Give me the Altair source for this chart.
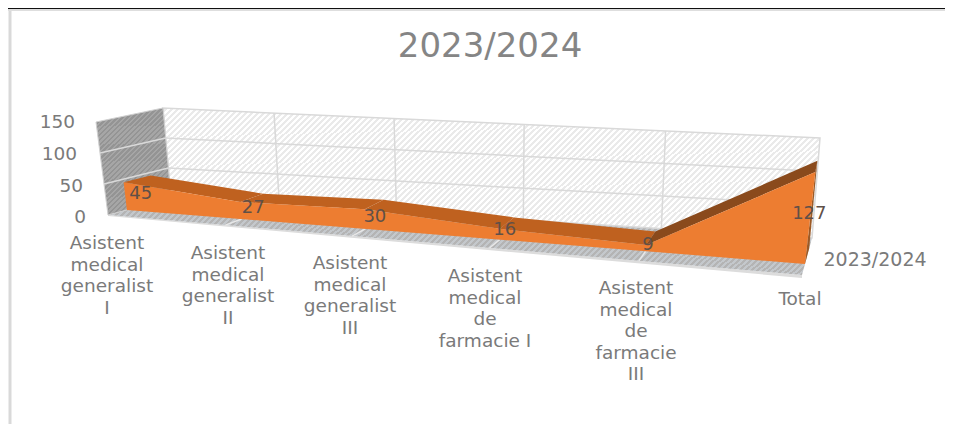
import altair as alt
import pandas as pd

title = "2023/2024"
series_name = "2023/2024"
categories = [
    ["Asistent", "medical", "generalist", "I"],
    ["Asistent", "medical", "generalist", "II"],
    ["Asistent", "medical", "generalist", "III"],
    ["Asistent", "medical", "de", "farmacie I"],
    ["Asistent", "medical", "de", "farmacie", "III"],
    ["Total"],
]
values = [45, 27, 30, 16, 9, 127]
axis_ticks = [0, 50, 100, 150]

# layout (reference pixel space)
W, H = 937, 416
FLOOR = {"fl": (108, 215), "fr": (802, 275), "bl": (171, 198), "br": (812, 238)}
TOP = {"fl": (96, 122), "fr": (816, 163), "bl": (163, 108), "br": (820, 138)}
PERSP = 1.229
D0, D1 = 0.3, 0.72
N = len(values) - 1
FONT = "DejaVu Sans"
GREY = "#7a7a7a"
label_x = [107, 228, 350, 485, 636, 800]
label_y = [243, 253, 263, 276, 288, 299]
value_offsets = [(17, 12), (13, 6), (10, 8), (5, 1), (2, 0), (-6, 42)]
tick_pos = [(86, 217), (83, 186), (77, 154), (75, 122)]


def lerp(a, b, s):
    return a + (b - a) * s


def bil(c, tt, d, k):
    return lerp(lerp(c["fl"][k], c["fr"][k], tt), lerp(c["bl"][k], c["br"][k], tt), d)


def P(i, v, d):
    """Project (category position, value, depth) to the picture plane."""
    t = i / N
    tt = t / (t + (1 - t) * PERSP)
    f = v / axis_ticks[-1]
    return (
        lerp(bil(FLOOR, tt, d, 0), bil(TOP, tt, d, 0), f),
        lerp(bil(FLOOR, tt, d, 1), bil(TOP, tt, d, 1), f),
    )


sx = alt.Scale(domain=[8, 8 + W], range=[0, W])
sy = alt.Scale(domain=[8 + H, 8], range=[H, 0])
xe = alt.X("x:Q", scale=sx, axis=None)
ye = alt.Y("y:Q", scale=sy, axis=None)


def hatch(c1, c2, period, w, h):
    n = int((w + h) / period)
    stops = []
    for k in range(n):
        a, b, e = k / n, (k + 0.5) / n, (k + 1) / n
        stops += [
            alt.GradientStop(offset=a, color=c1),
            alt.GradientStop(offset=b, color=c1),
            alt.GradientStop(offset=b, color=c2),
            alt.GradientStop(offset=e, color=c2),
        ]
    g = 1 + h / w
    return alt.LinearGradient(
        gradient="linear", x1=0, y1=0, x2=g / (1 + (h / w) ** 2) * 1.0, y2=g / (1 + (h / w) ** 2) * h / w, stops=stops
    )


def poly(pts, fill, stroke=None, sw=0):
    rows = [{"x": p[0], "y": p[1], "o": n} for n, p in enumerate(pts + pts[:1])]
    kw = {"fill": fill, "interpolate": "linear", "clip": False}
    if stroke:
        kw.update(stroke=stroke, strokeWidth=sw)
    else:
        kw.update(strokeWidth=0)
    return alt.Chart(pd.DataFrame(rows)).mark_line(**kw).encode(x=xe, y=ye, order="o:Q")


def seg(a, b, color, sw=1.5):
    rows = [{"x": a[0], "y": a[1], "o": 0}, {"x": b[0], "y": b[1], "o": 1}]
    return alt.Chart(pd.DataFrame(rows)).mark_line(color=color, strokeWidth=sw).encode(x=xe, y=ye, order="o:Q")


def text(x, y, t, size, color=GREY, align="center", line_height=None):
    kw = dict(fontSize=size, color=color, align=align, baseline="middle", font=FONT)
    if line_height:
        kw.update(lineHeight=line_height, baseline="line-top", lineBreak="\n")
    return alt.Chart(pd.DataFrame({"x": [x], "y": [y], "t": [t]})).mark_text(**kw).encode(x=xe, y=ye, text="t:N")


layers = []
# page furniture
layers.append(seg((8, 8.5), (945, 8.5), "#111111", 1.6))
layers.append(seg((8, 10), (945, 10), "#dedede", 2))
layers.append(seg((10, 11), (10, 426), "#d9d9d9", 3))

# floor: thin edge, then top surface
layers.append(poly([P(0, 0, 0), P(N, 0, 0), (P(N, 0, 0)[0], P(N, 0, 0)[1] + 3), (P(0, 0, 0)[0], P(0, 0, 0)[1] + 1)], "#dcdcdc"))
layers.append(poly([P(0, 0, 0), P(N, 0, 0), P(N, 0, 1), P(0, 0, 1)], hatch("#b4b4b4", "#c4c8cc", 6, 700, 80)))
# walls
layers.append(poly([P(0, 0, 1), P(N, 0, 1), P(N, 150, 1), P(0, 150, 1)], hatch("#ffffff", "#eaeaea", 6, 660, 135), "#d9d9d9", 1.5))
layers.append(poly([P(0, 0, 0), P(0, 0, 1), P(0, 150, 1), P(0, 150, 0)], hatch("#949494", "#a6a6a6", 5, 75, 110), "#d0d0d0", 1))
# gridlines
for v in axis_ticks[1:-1]:
    layers.append(seg(P(0, v, 1), P(N, v, 1), "#d9d9d9", 1.5))
    layers.append(seg(P(0, v, 0), P(0, v, 1), "#d9d9d9", 1.5))
for i in range(1, N):
    layers.append(seg(P(i, 0, 1), P(i, 150, 1), "#d9d9d9", 1.5))
    layers.append(seg(P(i, 0, 0), P(i, 0, 0.3), "#e8e8e8", 1.5))

# area solid
layers.append(poly([P(N, 0, D0), P(N, 0, D1), P(N, values[N], D1), P(N, values[N], D0)], "#9c5a26"))
for i in range(N):
    col = "#8a4a1c" if values[i + 1] > 2 * values[i] else "#bf611f"
    layers.append(poly([P(i, values[i], D0), P(i + 1, values[i + 1], D0), P(i + 1, values[i + 1], D1), P(i, values[i], D1)], col))
front = [P(i, values[i], D0) for i in range(N + 1)] + [P(N, 0, D0), P(0, 0, D0)]
layers.append(poly(front, "#ed7d31"))

# texts
for i, v in enumerate(values):
    px, py = P(i, v, D0)
    dx, dy = value_offsets[i]
    layers.append(text(px + dx, py + dy, str(v), 18, "#5f5048"))
for lines, lx, ly in zip(categories, label_x, label_y):
    layers.append(text(lx, ly - 10, "\n".join(lines), 18.5, GREY, line_height=21.5))
for v, (tx, ty) in zip(axis_ticks, tick_pos):
    layers.append(text(tx, ty, str(v), 18.5, GREY, "right"))
layers.append(text(875, 260, series_name, 19))
layers.append(text(490, 47, title, 34, "#858585"))

chart = (
    alt.layer(*layers)
    .properties(width=W, height=H, padding=0, autosize=alt.AutoSizeParams(type="none"), background="white")
    .configure_view(stroke=None)
)
chart.save("out.html", embed_options={"renderer": "svg", "actions": False})
